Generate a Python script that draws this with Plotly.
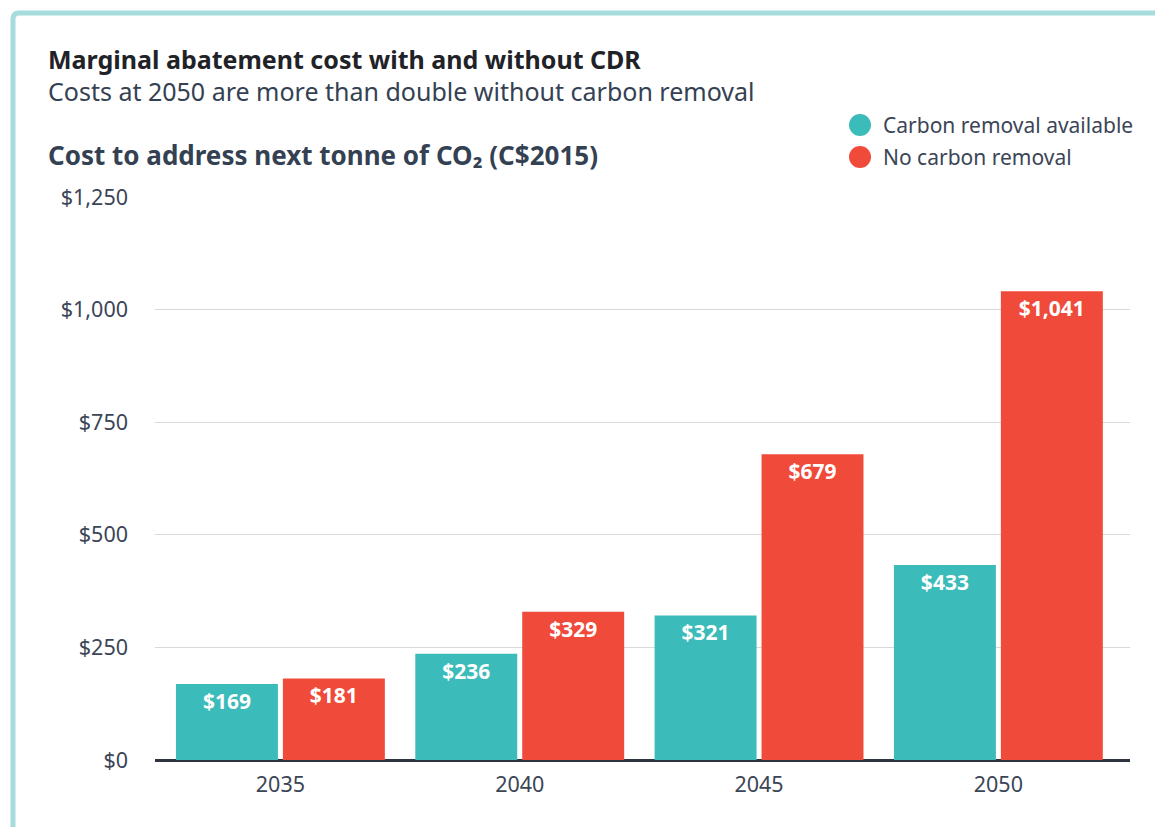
import plotly.graph_objects as go

# Marginal abatement cost (C$2015 per tonne CO2) by year and scenario
years = ["2035", "2040", "2045", "2050"]
with_cdr = [169, 236, 321, 433]
without_cdr = [181, 329, 679, 1041]
series_names = ["Carbon removal available", "No carbon removal"]
y_ticks = [0, 250, 500, 750, 1000, 1250]
y_tick_labels = ["$0", "$250", "$500", "$750", "$1,000", "$1,250"]

TEAL = "#3BBBB9"
RED = "#F04A3A"
BORDER = "#A6DCDC"
INK = "#1F2328"
SLATE = "#344152"
TICK = "#3B4556"
FONT = "'Noto Sans', sans-serif"

W, H = 1155, 827
ML, MR, MT, MB = 155, 25, 197, 67
PW, PH = W - ML - MR, H - MT - MB


def px(x):
    return (x - ML) / PW


def py(y):
    return (H - MB - y) / PH


BAR_W = 0.426
GAP = 0.0104

fig = go.Figure()
for vals, color, offset in [
    (with_cdr, TEAL, -(BAR_W + GAP)),
    (without_cdr, RED, GAP),
]:
    fig.add_trace(go.Bar(
        x=years, y=vals,
        width=BAR_W, offset=offset,
        marker=dict(color=color, line=dict(width=0)),
        texttemplate="$%{y:,}",
        textposition="inside",
        insidetextanchor="end",
        textangle=0,
        textfont=dict(family=FONT, size=21, color="white", weight="bold"),
        showlegend=False,
        hoverinfo="skip",
    ))

annotations = [
    dict(text="<b>Marginal abatement cost with and without CDR</b>",
         x=px(46), y=py(59), font=dict(size=25, color=INK)),
    dict(text="Costs at 2050 are more than double without carbon removal",
         x=px(46), y=py(91), font=dict(size=25, color=SLATE)),
    dict(text="<b>Cost to address next tonne of CO₂ (C$2015)</b>",
         x=px(46), y=py(155), font=dict(size=26, color=SLATE)),
]

# Legend drawn as circle keys with labels
shapes = []
for i, (name, color) in enumerate(zip(series_names, [TEAL, RED])):
    cy = 125 + 32 * i
    shapes.append(dict(
        type="circle", xref="paper", yref="paper",
        x0=px(849), x1=px(871), y0=py(cy - 11), y1=py(cy + 11),
        fillcolor=color, line=dict(width=0),
    ))
    annotations.append(dict(
        text=name, x=px(881), y=py(cy), font=dict(size=21, color=TICK),
    ))

for a in annotations:
    a.update(xref="paper", yref="paper", xanchor="left", yanchor="middle",
             showarrow=False)
    a["font"]["family"] = FONT

# Card border: top and left edges with rounded corner
bx, by, r = 13, 13, 6
border_path = (
    f"M {px(bx)},{py(H + 5)} L {px(bx)},{py(by + r)} "
    f"Q {px(bx)},{py(by)} {px(bx + r)},{py(by)} L {px(W + 5)},{py(by)}"
)
shapes.append(dict(type="path", path=border_path, xref="paper", yref="paper",
                   line=dict(color=BORDER, width=5), layer="above"))

fig.update_layout(
    width=W, height=H,
    margin=dict(l=ML, r=MR, t=MT, b=MB),
    paper_bgcolor="white", plot_bgcolor="white",
    barmode="overlay",
    showlegend=False,
    font=dict(family=FONT, color=TICK, size=21),
    annotations=annotations,
    shapes=shapes,
    xaxis=dict(
        type="category", range=[-0.524, 3.55],
        showgrid=False, showline=False, zeroline=False,
        ticks="", ticklabelstandoff=9,
        tickfont=dict(size=21.5, color=TICK),
    ),
    yaxis=dict(
        range=[0, 1250], tickvals=y_ticks, ticktext=y_tick_labels,
        showgrid=True, gridcolor="#D9D9D9", gridwidth=1,
        zeroline=True, zerolinecolor="#2D3440", zerolinewidth=3,
        showline=False, ticks="", ticklabelstandoff=26,
        tickfont=dict(size=21.5, color=TICK),
    ),
)

fig.write_html("out.html")
